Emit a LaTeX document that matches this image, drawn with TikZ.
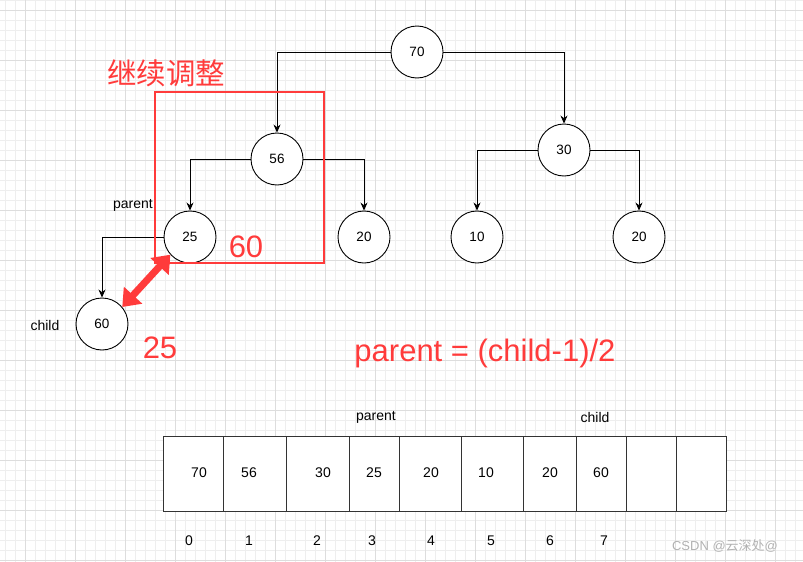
\documentclass[tikz,border=0pt]{standalone}
\usepackage{fontspec}
\setmainfont{Liberation Sans}
\newfontfamily\cjk{Noto Sans CJK SC}
\usetikzlibrary{arrows.meta}
\definecolor{hred}{HTML}{FF3B3B}
\definecolor{gmin}{HTML}{EEEEEE}
\definecolor{gmaj}{HTML}{DDDDDD}
\tikzset{
  tnode/.style={circle,draw=black,line width=0.9pt,fill=white,minimum size=52pt,inner sep=0pt,font=\fontsize{13.5}{15}\selectfont},
  tedge/.style={draw=black,line width=0.8pt,-{Stealth[length=8pt,width=7pt]}},
  cell/.style={draw=black!80,line width=0.9pt,fill=white},
  lbl/.style={font=\fontsize{14}{16}\selectfont},
  redtxt/.style={text=hred,font=\fontsize{31}{34}\selectfont},
}
\begin{document}
\begin{tikzpicture}[x=1pt,y=-1pt]
\useasboundingbox (0,0) rectangle (803,562);
\fill[white] (0,0) rectangle (803,562);
% grid
\foreach \x in {5,15,...,805} \draw[gmin,line width=0.6pt] (\x,0) -- (\x,562);
\foreach \y in {0,10,...,560} \draw[gmin,line width=0.6pt] (0,\y) -- (803,\y);
\foreach \x in {25,75,...,800} \draw[gmaj,line width=0.7pt] (\x,0) -- (\x,562);
\foreach \y in {10,60,...,560} \draw[gmaj,line width=0.7pt] (0,\y) -- (803,\y);

% tree nodes
\node[tnode] (n70) at (417,52) {70};
\node[tnode] (n56) at (277,159) {56};
\node[tnode] (n30) at (564,150) {30};
\node[tnode] (n25) at (190,237) {25};
\node[tnode] (n20a) at (364,237) {20};
\node[tnode] (n10) at (477,237) {10};
\node[tnode] (n20b) at (639,237) {20};
\node[tnode] (n60) at (102,324) {60};

\draw[tedge] (n70.west) -| (n56.north);
\draw[tedge] (n70.east) -| (n30.north);
\draw[tedge] (n56.west) -| (n25.north);
\draw[tedge] (n56.east) -| (n20a.north);
\draw[tedge] (n30.west) -| (n10.north);
\draw[tedge] (n30.east) -| (n20b.north);
\draw[tedge] (n25.west) -| (n60.north);

% red box
\draw[hred,line width=2pt] (155,92) rectangle (324,263);
\node[redtxt,anchor=center,font=\cjk\fontsize{29.5}{32}\selectfont] (t1) at (166,73) {继续调整};
\node[redtxt] (t60) at (246,247) {60};
\node[redtxt] (t25) at (160,348) {25};
\node[redtxt,font=\fontsize{31}{34}\selectfont] (tf) at (485,353) {parent = (child-1)/2};

% red double arrow
\draw[hred,line width=7pt,{Triangle[length=16pt,width=24pt]}-{Triangle[length=16pt,width=24pt]}] (n25.222) -- (n60.40);

% labels
\node[lbl] (lp) at (133,205) {parent};
\node[lbl] (lc) at (45,325) {child};

% array
\foreach \a/\b/\v/\vx [count=\i] in {163/223/70/199,223/286/56/249,286/349/30/323,349/399/25/374,399/461/20/431,461/523/10/486,523/576/20/550,576/626/60/601,626/676//651,676/726//701}{
  \draw[cell] (\a,436) rectangle (\b,511);
  \node[lbl] (c\i) at (\vx,473) {\v};
}
\foreach \x/\t [count=\i] in {189/0,249/1,317/2,372/3,431/4,491/5,550/6,604/7}
  \node[lbl] (ix\i) at (\x,541) {\t};
\node[lbl] (ap) at (376,417) {parent};
\node[lbl] (ac) at (595,417) {child};

\node[text=black!30,font=\fontsize{13}{15}\selectfont] (wm) at (725,546) {CSDN @{\cjk 云深处}@};
\end{tikzpicture}
\end{document}
